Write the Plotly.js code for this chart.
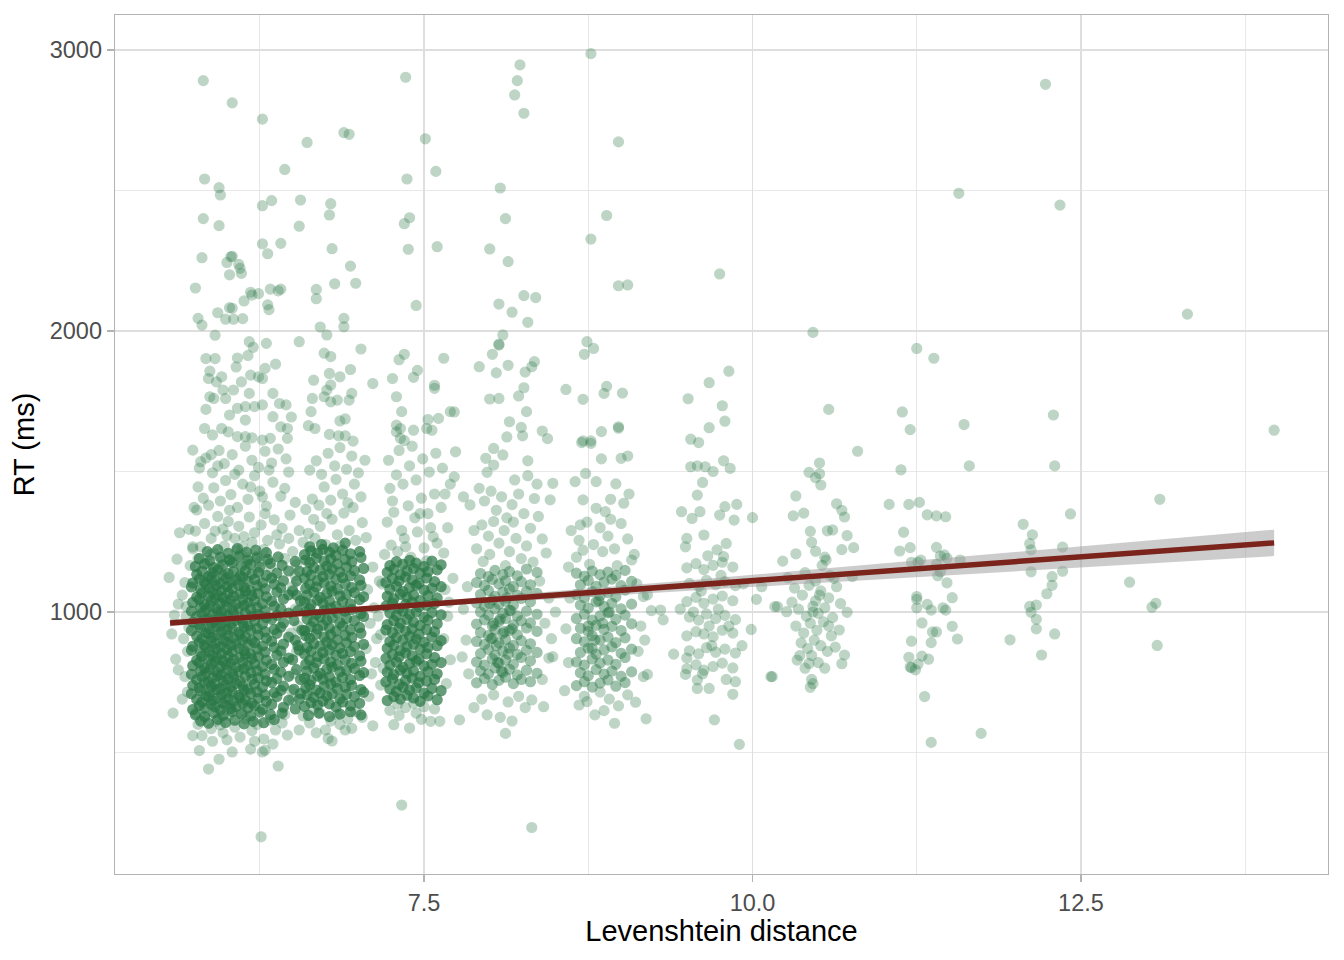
<!DOCTYPE html>
<html>
<head>
<meta charset="utf-8">
<script src="https://cdn.plot.ly/plotly-3.0.1.min.js"></script>
<style>
  html, body { margin: 0; padding: 0; background: #fff; }
  #chart { width: 1344px; height: 960px; }
</style>
</head>
<body>
<div id="chart"></div>
<script>
/* RT vs Levenshtein distance: jittered points + lm fit with 95% band */

// [levenshtein distance, RT in ms]
const clusterA = [
  [5.82,2891],[6.04,2812],[6.27,2754],[5.83,2541],[5.94,2510],[5.95,2484],[6.27,2446],[6.34,2464],[6.56,2466],[6.44,2575],
  [5.82,2400],[5.94,2375],[6.55,2373],[6.04,2266],[6.27,2310],[6.41,2312],[6.31,2275],[5.81,2261],[6.03,2264],[6.00,2244],
  [6.09,2237],[6.10,2223],[6.02,2200],[6.11,2205],[5.76,2153],[6.18,2138],[6.19,2128],[6.24,2133],[6.33,2149],[6.39,2143],
  [6.41,2149],[6.13,2107],[6.02,2083],[6.04,2081],[6.31,2093],[6.32,2076],[5.78,2045],[5.81,2021],[5.93,2065],[5.99,2042],
  [6.05,2042],[6.12,2044],[5.91,1985],[6.55,1962],[6.17,1962],[6.20,1942],[6.30,1956],
  [5.84,1902],[5.91,1902],[5.87,1857],[5.86,1831],[5.92,1819],[5.96,1837],[6.08,1904],[6.07,1872],[6.16,1913],[5.97,1790],
  [5.87,1766],[5.90,1760],[5.99,1760],[6.05,1790],[6.11,1819],[6.18,1843],[6.24,1837],[6.27,1831],[6.29,1867],[6.37,1882],
  [6.17,1778],[6.35,1778],[6.40,1742],[6.45,1737],[5.84,1721],[6.02,1701],[6.08,1725],[6.14,1731],[6.21,1731],[6.27,1737],
  [6.14,1683],[6.35,1695],[6.49,1694],[5.83,1653],[5.89,1630],[5.96,1653],[6.01,1641],[6.08,1624],[6.14,1624],[6.19,1620],
  [6.27,1612],[6.33,1618],[6.41,1659],[6.46,1653],[6.46,1618],
  [5.72,1165],[5.78,1190],[5.85,1172],[5.90,1210],[5.94,1158],[5.98,1235],[6.02,1185],[6.06,1262],[6.10,1205],[6.15,1170],
  [6.19,1248],[6.23,1198],[6.28,1222],[6.33,1160],[6.38,1275],[6.44,1190],[6.50,1215],[6.53,1168],[5.76,1288],[5.83,1315],
  [5.88,1262],[5.93,1340],[5.97,1295],[6.01,1322],[6.05,1178],[6.09,1305],[6.13,1268],[6.17,1338],[6.21,1282],[6.26,1310],
  [6.31,1255],[6.36,1328],[6.42,1298],[6.47,1262],[5.80,1232],[5.87,1204],[6.00,1272],[6.12,1232],[6.25,1180],[6.40,1242],
  [5.74,1225],[6.55,1290],[6.48,1345],[5.91,1288],[6.07,1220],[6.29,1350],[6.16,1195],[5.96,1182],
  [5.75,1372],[5.82,1405],[5.86,1380],[5.90,1442],[5.95,1395],[5.99,1468],[6.03,1418],[6.08,1372],[6.12,1455],[6.16,1401],
  [6.21,1485],[6.25,1430],[6.30,1377],[6.35,1462],[6.41,1412],[6.47,1498],[6.52,1390],[5.79,1512],[5.84,1548],[5.89,1495],
  [5.94,1575],[5.98,1528],[6.04,1560],[6.09,1505],[6.14,1590],[6.19,1540],[6.24,1515],[6.29,1572],[6.34,1530],[6.39,1580],
  [6.45,1545],[5.78,1445],[5.93,1520],[6.06,1490],[6.18,1445],[6.32,1505],[6.44,1440],[6.02,1362],[6.27,1410],[5.88,1560],
  [5.56,1123],[5.62,1188],[5.64,1282],[5.68,1105],[5.63,1028],[5.60,989],[5.58,922],[5.61,832],[5.63,794],[5.59,640],
  [5.71,1294],[5.74,1232],[5.74,1576],[5.80,1535],[5.77,1363],
  [5.66,1060],[5.69,985],[5.67,905],[5.70,860],[5.68,770],[5.70,715],[5.66,690],[5.71,945],[5.69,1020],[6.50,1090],
  [6.52,1010],[6.49,925],[6.53,860],[6.51,780],[6.49,720],[6.54,950],[6.52,1130],[6.50,690],
  [5.86,441],[5.79,507],[5.74,560],[5.94,476],[6.04,502],[6.18,512],[6.27,502],[6.29,508],[6.39,452],[6.26,200],[5.89,540],
  [5.78,600],[5.83,625],[5.88,585],[5.92,612],[5.97,570],[6.01,632],[6.06,590],[6.10,555],[6.14,620],[6.19,578],
  [6.23,600],[6.28,548],[6.33,615],[6.37,580],[6.42,605],[6.46,562],[5.81,560],[6.00,545],[6.21,540],[6.35,530],
  [5.95,598],[6.12,640],[5.76,640],[6.44,635]
];

const clusterA_core = [
  [5.80,612],[5.86,604],[5.93,618],[5.99,607],[6.06,615],[6.13,602],[6.20,611],[6.28,606],[6.36,617],
  [5.76,634],[5.83,629],[5.90,641],[5.97,632],[6.04,646],[6.11,637],[6.18,630],[6.25,644],[6.33,635],[6.42,640],
  [5.74,653],[5.79,667],[5.83,658],[5.88,672],[5.91,662],[5.95,651],[5.99,669],[6.03,656],[6.07,664],[6.12,674],[6.16,659],[6.21,666],[6.27,654],[6.34,671],[6.43,661],
  [5.77,689],[5.81,680],[5.86,698],[5.89,685],[5.93,694],[5.97,677],[6.01,691],[6.05,683],[6.10,696],[6.14,687],[6.19,675],[6.24,693],[6.30,682],[6.38,699],[6.47,686],
  [5.73,709],[5.80,720],[5.84,701],[5.87,715],[5.92,724],[5.96,706],[6.00,712],[6.04,718],[6.09,703],[6.13,722],[6.18,710],[6.23,716],[6.29,705],[6.36,713],[6.41,721],
  [5.74,739],[5.79,730],[5.83,748],[5.88,735],[5.91,744],[5.95,727],[5.99,741],[6.03,733],[6.07,746],[6.12,737],[6.16,725],[6.21,743],[6.27,732],[6.34,749],[6.43,736],
  [5.77,759],[5.81,770],[5.86,751],[5.89,765],[5.93,774],[5.97,756],[6.01,762],[6.05,768],[6.10,753],[6.14,772],[6.19,760],[6.24,766],[6.30,755],[6.38,763],[6.47,771],
  [5.73,778],[5.80,792],[5.84,783],[5.87,797],[5.92,787],[5.96,776],[6.00,794],[6.04,781],[6.09,789],[6.13,799],[6.18,784],[6.23,791],[6.29,779],[6.36,796],[6.41,786],
  [5.74,809],[5.79,820],[5.83,801],[5.88,815],[5.91,824],[5.95,806],[5.99,812],[6.03,818],[6.07,803],[6.12,822],[6.16,810],[6.21,816],[6.27,805],[6.34,813],[6.43,821],
  [5.77,828],[5.81,842],[5.86,833],[5.89,847],[5.93,837],[5.97,826],[6.01,844],[6.05,831],[6.10,839],[6.14,849],[6.19,834],[6.24,841],[6.30,829],[6.38,846],[6.47,836],
  [5.73,864],[5.80,855],[5.84,873],[5.87,860],[5.92,869],[5.96,852],[6.00,866],[6.04,858],[6.09,871],[6.13,862],[6.18,850],[6.23,868],[6.29,857],[6.36,874],[6.41,861],
  [5.74,878],[5.79,892],[5.83,883],[5.88,897],[5.91,887],[5.95,876],[5.99,894],[6.03,881],[6.07,889],[6.12,899],[6.16,884],[6.21,891],[6.27,879],[6.34,896],[6.43,886],
  [5.77,914],[5.81,905],[5.86,923],[5.89,910],[5.93,919],[5.97,902],[6.01,916],[6.05,908],[6.10,921],[6.14,912],[6.19,900],[6.24,918],[6.30,907],[6.38,924],[6.47,911],
  [5.73,934],[5.80,945],[5.84,926],[5.87,940],[5.92,949],[5.96,931],[6.00,937],[6.04,943],[6.09,928],[6.13,947],[6.18,935],[6.23,941],[6.29,930],[6.36,938],[6.41,946],
  [5.74,964],[5.79,955],[5.83,973],[5.88,960],[5.91,969],[5.95,952],[5.99,966],[6.03,958],[6.07,971],[6.12,962],[6.16,950],[6.21,968],[6.27,957],[6.34,974],[6.43,961],
  [5.77,984],[5.81,995],[5.86,976],[5.89,990],[5.93,999],[5.97,981],[6.01,987],[6.05,993],[6.10,978],[6.14,997],[6.19,985],[6.24,991],[6.30,980],[6.38,988],[6.47,996],
  [5.73,1003],[5.80,1017],[5.84,1008],[5.87,1022],[5.92,1012],[5.96,1001],[6.00,1019],[6.04,1006],[6.09,1014],[6.13,1024],[6.18,1009],[6.23,1016],[6.29,1004],[6.36,1021],[6.41,1011],
  [5.74,1034],[5.79,1045],[5.83,1026],[5.88,1040],[5.91,1049],[5.95,1031],[5.99,1037],[6.03,1043],[6.07,1028],[6.12,1047],[6.16,1035],[6.21,1041],[6.27,1030],[6.34,1038],[6.43,1046],
  [5.77,1053],[5.81,1067],[5.86,1058],[5.89,1072],[5.93,1062],[5.97,1051],[6.01,1069],[6.05,1056],[6.10,1064],[6.14,1074],[6.19,1059],[6.24,1066],[6.30,1054],[6.38,1071],[6.47,1061],
  [5.73,1089],[5.80,1080],[5.84,1098],[5.87,1085],[5.92,1094],[5.96,1077],[6.00,1091],[6.04,1083],[6.09,1096],[6.13,1087],[6.18,1075],[6.23,1093],[6.29,1082],[6.36,1099],[6.41,1086],
  [5.74,1103],[5.79,1117],[5.83,1108],[5.88,1122],[5.91,1112],[5.95,1101],[5.99,1119],[6.03,1106],[6.07,1114],[6.12,1124],[6.16,1109],[6.21,1116],[6.27,1104],[6.34,1121],[6.43,1111],
  [5.77,1134],[5.81,1145],[5.86,1126],[5.89,1140],[5.93,1149],[5.97,1131],[6.01,1137],[6.05,1143],[6.10,1128],[6.14,1147],[6.19,1135],[6.24,1141],[6.30,1130],[6.38,1138],[6.47,1146],
  [5.76,1162],[5.83,1171],[5.90,1158],[5.97,1168],[6.04,1175],[6.11,1163],[6.18,1170],[6.25,1160],[6.33,1173],[6.42,1166],
  [5.79,1190],[5.87,1182],[5.95,1195],[6.02,1186],[6.09,1198],[6.16,1184],[6.23,1193],[6.31,1187],[6.39,1196],
  [5.85,1215],[5.93,1222],[6.01,1209],[6.08,1226],[6.15,1213],[6.22,1220],[6.30,1211],
  [6.52,655],[6.55,690],[6.51,725],[6.56,760],[6.53,795],[6.50,830],[6.55,865],[6.52,900],[6.57,935],[6.51,970],
  [6.54,1005],[6.56,1040],[6.50,1075],[6.53,1110],[6.55,1145],[6.52,1180],[6.56,710],[6.54,880],[6.53,1060]
];

const clusterB = [
  [6.61,2671],[6.89,2706],[6.93,2700],[6.79,2453],[6.78,2413],[6.80,2293],[6.94,2231],[6.98,2170],[6.82,2168],[6.68,2148],
  [6.68,2115],[6.89,2045],[6.89,2015],[6.71,2014],[6.76,1986],[7.02,1936],
  [6.66,1825],[6.74,1921],[6.79,1909],[6.78,1849],[6.86,1837],[6.94,1863],[6.76,1790],[6.79,1808],[6.95,1778],[6.93,1754],
  [6.74,1766],[6.65,1760],[6.79,1748],[6.84,1754],[7.11,1813],[6.64,1713],[6.86,1680],[6.90,1687],[6.62,1663],[6.67,1653],
  [6.78,1632],[6.85,1627],[6.90,1627],[6.96,1608],
  [6.58,1248],[6.62,1280],[6.67,1262],[6.71,1305],[6.75,1240],[6.80,1330],[6.84,1275],[6.89,1352],[6.93,1290],[6.98,1255],
  [7.03,1318],[6.60,1365],[6.65,1402],[6.70,1380],[6.74,1445],[6.79,1398],[6.83,1472],[6.88,1420],[6.92,1388],[6.97,1455],
  [7.02,1410],[6.63,1505],[6.68,1538],[6.72,1490],[6.77,1565],[6.82,1520],[6.86,1585],[6.91,1508],[6.95,1555],[7.00,1495],
  [7.05,1540],[6.66,1330],[6.86,1235],[6.96,1372],[6.76,1350],[7.06,1265],
  [7.07,1080],[7.09,960],[7.06,870],[7.10,780],[7.08,700],[7.12,1015],[7.14,905],[7.11,1160],[7.13,820],[7.16,1110],
  [7.15,985],[7.17,740],
  [6.55,580],[6.68,570],[6.77,550],[6.80,541],[6.75,580],[6.90,580],[6.95,586],[7.11,595],[6.58,630],[6.63,605],
  [6.71,640],[6.79,612],[6.84,635],[6.92,620],[6.98,645],[7.03,625],[6.66,655],[6.86,600]
];

const clusterB_core = [
  [6.62,632],[6.70,640],[6.78,628],[6.86,637],[6.94,645],[7.02,634],
  [6.59,664],[6.64,678],[6.69,669],[6.73,683],[6.78,673],[6.83,662],[6.88,680],[6.94,667],[7.01,675],
  [6.61,705],[6.66,696],[6.71,712],[6.76,701],[6.80,709],[6.86,691],[6.91,707],[6.97,699],[7.04,714],
  [6.60,730],[6.63,741],[6.68,722],[6.74,736],[6.79,744],[6.84,727],[6.90,733],[6.95,739],[7.02,724],
  [6.59,765],[6.64,756],[6.69,772],[6.73,761],[6.78,769],[6.83,751],[6.88,767],[6.94,759],[7.01,774],
  [6.61,790],[6.66,801],[6.71,782],[6.76,796],[6.80,804],[6.86,787],[6.91,793],[6.97,799],[7.04,784],
  [6.60,814],[6.63,828],[6.68,819],[6.74,833],[6.79,823],[6.84,812],[6.90,830],[6.95,817],[7.02,825],
  [6.59,850],[6.64,861],[6.69,842],[6.73,856],[6.78,864],[6.83,847],[6.88,853],[6.94,859],[7.01,844],
  [6.61,874],[6.66,888],[6.71,879],[6.76,893],[6.80,883],[6.86,872],[6.91,890],[6.97,877],[7.04,885],
  [6.60,915],[6.63,906],[6.68,922],[6.74,911],[6.79,919],[6.84,901],[6.90,917],[6.95,909],[7.02,924],
  [6.59,934],[6.64,948],[6.69,939],[6.73,953],[6.78,943],[6.83,932],[6.88,950],[6.94,937],[7.01,945],
  [6.61,975],[6.66,966],[6.71,982],[6.76,971],[6.80,979],[6.86,961],[6.91,977],[6.97,969],[7.04,984],
  [6.60,1000],[6.63,1011],[6.68,992],[6.74,1006],[6.79,1014],[6.84,997],[6.90,1003],[6.95,1009],[7.02,994],
  [6.59,1035],[6.64,1026],[6.69,1042],[6.73,1031],[6.78,1039],[6.83,1021],[6.88,1037],[6.94,1029],[7.01,1044],
  [6.61,1060],[6.66,1071],[6.71,1052],[6.76,1066],[6.80,1074],[6.86,1057],[6.91,1063],[6.97,1069],[7.04,1054],
  [6.60,1084],[6.63,1098],[6.68,1089],[6.74,1103],[6.79,1093],[6.84,1082],[6.90,1100],[6.95,1087],[7.02,1095],
  [6.59,1120],[6.64,1131],[6.69,1112],[6.73,1126],[6.78,1134],[6.83,1117],[6.88,1123],[6.94,1129],[7.01,1114],
  [6.61,1144],[6.66,1158],[6.71,1149],[6.76,1163],[6.80,1153],[6.86,1142],[6.91,1160],[6.97,1147],[7.04,1155],
  [6.60,1185],[6.63,1176],[6.68,1192],[6.74,1181],[6.79,1189],[6.84,1171],[6.90,1187],[6.95,1179],[7.02,1194],
  [6.59,1204],[6.64,1218],[6.69,1209],[6.73,1223],[6.78,1213],[6.83,1202],[6.88,1220],[6.94,1207],[7.01,1215],
  [6.63,1232],[6.72,1240],[6.81,1228],[6.90,1245]
];

const clusterC = [
  [7.36,2903],[7.51,2684],[7.37,2541],[7.59,2568],[7.39,2403],[7.35,2382],[7.38,2291],[7.60,2300],[7.44,2091],[7.35,1917],
  [7.31,1898],[7.65,1903],[7.73,1712],
  [7.29,1665],[7.29,1641],[7.32,1653],[7.42,1647],[7.53,1685],[7.52,1653],[7.56,1647],[7.61,1689],[7.70,1713],[7.26,1831],
  [7.29,1766],[7.33,1713],[7.42,1835],[7.45,1860],[7.58,1807],[7.58,1796],[7.32,1618],[7.35,1610],
  [7.20,1205],[7.25,1238],[7.30,1215],[7.35,1262],[7.40,1195],[7.45,1285],[7.50,1228],[7.55,1300],[7.60,1245],[7.65,1210],
  [7.22,1320],[7.27,1355],[7.33,1290],[7.38,1378],[7.43,1335],[7.48,1405],[7.53,1350],[7.58,1420],[7.63,1372],[7.68,1300],
  [7.24,1440],[7.29,1488],[7.34,1455],[7.39,1520],[7.44,1470],[7.49,1545],[7.54,1498],[7.59,1565],[7.64,1512],[7.70,1455],
  [7.31,1575],[7.41,1590],[7.47,1350],[7.36,1232],[7.57,1268],[7.26,1395],[7.66,1420],[7.52,1182],[7.23,1540],
  [7.66,1080],[7.68,985],[7.65,905],[7.70,830],[7.67,745],[7.72,1120],[7.69,1035],[7.18,1100],[7.17,920],[7.19,800],
  [7.27,599],[7.39,587],[7.55,611],[7.62,611],[7.50,663],[7.33,313],[7.24,650],[7.31,632],[7.36,660],[7.44,640],
  [7.48,618],[7.58,655],[7.30,672],[7.42,675]
];

const clusterC_core = [
  [7.22,685],[7.27,699],[7.32,690],[7.37,704],[7.42,694],[7.47,682],[7.53,701],[7.60,688],
  [7.24,726],[7.29,717],[7.34,733],[7.39,722],[7.44,730],[7.50,711],[7.56,728],[7.63,720],
  [7.21,751],[7.26,762],[7.31,743],[7.36,757],[7.41,765],[7.46,748],[7.52,754],[7.58,760],
  [7.22,786],[7.27,777],[7.32,793],[7.37,782],[7.42,790],[7.47,771],[7.53,788],[7.60,780],
  [7.24,811],[7.29,822],[7.34,803],[7.39,817],[7.44,825],[7.50,808],[7.56,814],[7.63,820],
  [7.21,835],[7.26,849],[7.31,840],[7.36,854],[7.41,844],[7.46,832],[7.52,851],[7.58,838],
  [7.22,871],[7.27,882],[7.32,863],[7.37,877],[7.42,885],[7.47,868],[7.53,874],[7.60,880],
  [7.24,895],[7.29,909],[7.34,900],[7.39,914],[7.44,904],[7.50,892],[7.56,911],[7.63,898],
  [7.21,936],[7.26,927],[7.31,943],[7.36,932],[7.41,940],[7.46,921],[7.52,938],[7.58,930],
  [7.22,955],[7.27,969],[7.32,960],[7.37,974],[7.42,964],[7.47,952],[7.53,971],[7.60,958],
  [7.24,996],[7.29,987],[7.34,1003],[7.39,992],[7.44,1000],[7.50,981],[7.56,998],[7.63,990],
  [7.21,1021],[7.26,1032],[7.31,1013],[7.36,1027],[7.41,1035],[7.46,1018],[7.52,1024],[7.58,1030],
  [7.22,1056],[7.27,1047],[7.32,1063],[7.37,1052],[7.42,1060],[7.47,1041],[7.53,1058],[7.60,1050],
  [7.24,1081],[7.29,1092],[7.34,1073],[7.39,1087],[7.44,1095],[7.50,1078],[7.56,1084],[7.63,1090],
  [7.21,1105],[7.26,1119],[7.31,1110],[7.36,1124],[7.41,1114],[7.46,1102],[7.52,1121],[7.58,1108],
  [7.22,1141],[7.27,1152],[7.32,1133],[7.37,1147],[7.42,1155],[7.47,1138],[7.53,1144],[7.60,1150],
  [7.24,1165],[7.29,1179],[7.34,1170],[7.39,1184],[7.44,1174],[7.50,1162],[7.56,1181],[7.63,1168]
];

const clusterD = [
  [8.23,2947],[8.21,2891],[8.19,2840],[8.26,2775],[8.08,2509],[8.12,2400],[8.00,2292],[8.14,2247],[8.26,2126],[8.35,2119],
  [8.07,2096],[8.17,2067],[8.29,2031],[8.10,1986],[8.07,1953],[8.07,1950],[8.02,1917],[7.92,1873],[8.05,1851],[8.14,1878],
  [8.27,1854],[8.32,1873],[8.34,1891],[8.26,1798],[8.22,1769],[8.00,1758],[8.07,1760],[8.28,1713],[8.15,1677],[8.24,1657],
  [8.13,1623],[8.25,1627],[8.40,1644],[8.44,1617],
  [8.03,1582],[7.97,1547],[8.10,1559],[8.03,1523],[7.98,1497],[8.29,1538],[8.29,1485],[8.19,1470],[8.48,1458],[8.46,1399],
  [8.34,1404],[7.80,1410],[7.85,1381],[7.74,1570],[7.73,1481],
  [7.92,1440],[7.96,1395],[8.01,1430],[8.05,1362],[8.09,1410],[8.13,1335],[8.17,1382],[8.22,1420],[8.26,1350],[8.31,1298],
  [8.37,1340],[7.94,1310],[7.99,1270],[8.03,1322],[8.07,1245],[8.11,1290],[8.15,1215],[8.20,1262],[8.24,1190],[8.28,1235],
  [8.33,1178],[8.40,1260],[7.90,1225],[7.95,1180],[8.00,1205],[8.12,1165],[8.18,1320],[8.43,1210],[7.88,1290],[8.36,1455],
  [7.77,616],[7.98,634],[8.08,625],[8.17,612],[8.12,568],[8.32,233],[8.45,836],[8.48,841],[8.41,663],[8.32,687],
  [7.82,900],[7.80,1010],[7.84,780],[7.83,1090],[8.42,960],[8.45,1050],[8.40,760],[8.47,905],[7.94,690],[8.03,705],
  [8.14,680],[8.22,700],[8.27,660],[7.88,660],[8.38,1110],[7.79,840],[8.50,1000]
];

const clusterD_core = [
  [7.90,748],[7.96,763],[8.02,742],[8.07,757],[8.12,768],[8.18,745],[8.24,760],[8.31,752],
  [7.93,790],[7.99,779],[8.04,801],[8.10,785],[8.15,796],[8.21,776],[8.28,793],[8.36,782],
  [7.90,822],[7.96,811],[8.02,833],[8.07,818],[8.12,829],[8.18,814],[8.24,838],[8.31,826],
  [7.93,852],[7.99,867],[8.04,846],[8.10,861],[8.15,872],[8.21,849],[8.28,864],[8.36,856],
  [7.90,895],[7.96,884],[8.02,906],[8.07,890],[8.12,901],[8.18,881],[8.24,898],[8.31,887],
  [7.93,927],[7.99,916],[8.04,938],[8.10,923],[8.15,934],[8.21,919],[8.28,943],[8.36,931],
  [7.90,957],[7.96,972],[8.02,951],[8.07,966],[8.12,977],[8.18,954],[8.24,969],[8.31,961],
  [7.93,1000],[7.99,989],[8.04,1011],[8.10,995],[8.15,1006],[8.21,986],[8.28,1003],[8.36,992],
  [7.90,1032],[7.96,1021],[8.02,1043],[8.07,1028],[8.12,1039],[8.18,1024],[8.24,1048],[8.31,1036],
  [7.93,1062],[7.99,1077],[8.04,1056],[8.10,1071],[8.15,1082],[8.21,1059],[8.28,1074],[8.36,1066],
  [7.90,1105],[7.96,1094],[8.02,1116],[8.07,1100],[8.12,1111],[8.18,1091],[8.24,1108],[8.31,1097],
  [7.93,1137],[7.99,1126],[8.04,1148],[8.10,1133],[8.15,1144],[8.21,1129],[8.28,1153],[8.36,1141],
  [8.05,880],[8.11,930],[8.08,975],[8.14,850],[8.01,905],[8.16,1005],[8.06,820],[8.13,1050],[8.09,790],[8.03,960],
  [8.17,940],[8.00,1030]
];

const clusterE = [
  [8.77,2987],[8.98,2673],[8.89,2411],[8.77,2327],[8.98,2161],[9.05,2164],[8.74,1962],[8.79,1938],[8.72,1917],[8.58,1792],
  [8.71,1757],[8.89,1803],[8.87,1778],[9.01,1779],[8.85,1642],[8.98,1659],[8.98,1654],[8.71,1609],[8.77,1609],
  [8.70,1603],[8.77,1600],[8.85,1545],[9.00,1547],[9.05,1555],[8.73,1493],[8.65,1464],[8.81,1464],[8.96,1456],[8.71,1399],
  [8.92,1401],[9.06,1420],[8.81,1369],[9.02,1387],[8.69,1310],[8.88,1357],
  [8.62,1290],[8.68,1255],[8.74,1320],[8.79,1240],[8.84,1300],[8.90,1270],[8.95,1225],[9.00,1315],[9.05,1260],[9.10,1205],
  [8.66,1195],[8.76,1170],[8.86,1215],[8.97,1165],[9.08,1185],[8.71,1220],[8.92,1330],[8.60,1160],
  [9.23,1005],[9.30,1007],[9.32,972],[9.17,1055],[9.20,1061],[8.68,669],[8.74,681],[8.80,634],[8.87,649],[8.98,666],
  [8.95,604],[9.11,679],[9.19,620],[9.17,770],[9.20,778],[8.60,820],[8.58,940],[8.61,1050],[8.57,720],[9.13,860],
  [9.15,950],[9.12,1100],[9.18,900],[8.72,700],[8.91,690],[9.05,705],[8.84,715]
];

const clusterE_core = [
  [8.66,738],[8.72,752],[8.78,733],[8.84,747],[8.90,758],[8.96,736],[9.03,749],
  [8.69,784],[8.75,773],[8.81,795],[8.87,779],[8.93,790],[9.00,771],[9.08,787],
  [8.66,822],[8.72,811],[8.78,833],[8.84,818],[8.90,829],[8.96,814],[9.03,838],
  [8.69,856],[8.75,871],[8.81,850],[8.87,865],[8.93,876],[9.00,853],[9.08,868],
  [8.66,905],[8.72,894],[8.78,916],[8.84,900],[8.90,911],[8.96,891],[9.03,908],
  [8.69,942],[8.75,931],[8.81,953],[8.87,938],[8.93,949],[9.00,934],[9.08,958],
  [8.66,977],[8.72,992],[8.78,971],[8.84,986],[8.90,997],[8.96,974],[9.03,989],
  [8.69,1025],[8.75,1014],[8.81,1036],[8.87,1020],[8.93,1031],[9.00,1011],[9.08,1028],
  [8.66,1062],[8.72,1051],[8.78,1073],[8.84,1058],[8.90,1069],[8.96,1054],[9.03,1078],
  [8.69,1097],[8.75,1112],[8.81,1091],[8.87,1106],[8.93,1117],[9.00,1094],[9.08,1109],
  [8.66,1138],[8.72,1127],[8.78,1146],[8.84,1133],[8.90,1142],[8.96,1130],[9.03,1148],
  [8.80,900],[8.86,960],[8.83,1040],[8.78,870],[8.91,1000],[8.75,950]
];

const clusterF = [
  [9.75,2203],[9.51,1759],[9.67,1816],[9.82,1857],[9.77,1734],[9.79,1679],[9.67,1656],[9.53,1615],[9.59,1603],
  [9.53,1517],[9.58,1520],[9.64,1517],[9.70,1500],[9.78,1538],[9.83,1511],[9.62,1461],[9.58,1416],[9.46,1357],[9.54,1333],
  [9.60,1357],[9.75,1345],[9.79,1375],[9.88,1383],[9.86,1327],[10.00,1336],[9.50,1262],[9.49,1232],[9.63,1274],[9.73,1221],
  [9.78,1197],[9.80,1244],
  [9.50,798],[9.57,812],[9.63,793],[9.70,806],[9.77,818],[9.85,801],
  [9.52,862],[9.59,851],[9.65,873],[9.72,857],[9.79,868],[9.87,854],
  [9.50,915],[9.57,930],[9.63,922],[9.70,912],[9.77,935],[9.85,925],
  [9.52,982],[9.59,971],[9.65,993],[9.72,977],[9.79,988],[9.87,973],
  [9.50,1037],[9.57,1052],[9.63,1031],[9.70,1046],[9.77,1057],[9.85,1040],
  [9.52,1102],[9.59,1091],[9.65,1113],[9.72,1097],[9.79,1108],[9.87,1094],
  [9.50,1157],[9.57,1172],[9.63,1151],[9.70,1166],[9.77,1177],[9.85,1160],
  [9.67,950],[9.74,1010],[9.61,1075],[9.69,880],[9.76,1130],[9.55,1000],[9.82,950],[9.66,1200],
  [9.40,850],[9.50,836],[9.49,778],[9.58,758],[9.67,728],[9.58,728],[9.71,616],[9.85,707],[9.87,752],[9.90,529],
  [10.14,770],[9.99,938],[10.07,1090],[10.03,1045],[10.17,1019],[9.45,1010],[9.93,1100],[9.92,880],[9.62,780],[9.80,760]
];

const clusterG = [
  [10.46,1995],[10.58,1721],[10.80,1572],[10.51,1530],[10.43,1497],[10.51,1492],[10.48,1478],[10.52,1452],[10.33,1413],[10.31,1342],
  [10.39,1352],[10.64,1385],[10.68,1362],[10.70,1338],[10.44,1287],[10.45,1248],[10.48,1216],[10.57,1289],[10.61,1292],[10.72,1272],
  [10.68,1222],[10.77,1229],[10.23,1181],[10.33,1207],[10.55,1195],[10.56,1185],[10.53,1166],[10.27,1122],[10.76,1126],[10.59,1130],
  [10.19,1019],[10.26,1001],[10.72,999],[10.66,936],[10.63,875],[10.70,847],[10.34,829],[10.43,817],[10.68,816],[10.44,732],
  [10.46,745],[10.45,760],[10.15,770],
  [10.32,1085],[10.38,1060],[10.43,1095],[10.48,1040],[10.52,1075],[10.58,1050],[10.64,1090],[10.35,1010],[10.41,985],[10.46,1020],
  [10.50,995],[10.55,1015],[10.61,980],[10.67,1030],[10.33,950],[10.39,925],[10.44,960],[10.49,935],[10.54,965],[10.60,915],
  [10.37,890],[10.42,870],[10.47,900],[10.52,880],[10.57,860],[10.36,845],[10.45,845],[10.50,820],[10.40,800],[10.55,800],
  [10.30,1035],[10.62,1120],[10.48,1110],[10.40,1140],[10.58,950],[10.46,1000],[10.51,1060]
];

const clusterH = [
  [11.57,2490],[11.25,1938],[11.38,1903],[11.14,1712],[11.20,1649],[11.61,1667],[11.13,1506],[11.65,1520],[11.04,1383],[11.19,1383],
  [11.27,1390],[11.33,1346],[11.40,1342],[11.47,1339],[11.15,1284],[11.12,1217],[11.20,1229],[11.40,1230],[11.43,1199],[11.48,1191],
  [11.46,1203],[11.21,1177],[11.28,1185],[11.26,1177],[11.58,1185],[11.40,1170],[11.41,1129],[11.43,1143],[11.48,1104],[11.25,1055],
  [11.25,1045],[11.25,1015],[11.33,1027],[11.36,1007],[11.47,1007],[11.45,1015],[11.52,1051],[11.29,961],[11.37,929],[11.40,929],
  [11.52,949],[11.21,896],[11.36,891],[11.56,904],[11.19,839],[11.29,843],[11.34,832],[11.20,804],[11.21,802],[11.24,794],
  [11.26,815],[11.31,699],[11.36,536],[11.74,568]
];

const clusterI = [
  [12.23,2878],[12.34,2448],[12.29,1701],[12.30,1520],[12.06,1312],[12.13,1275],[12.11,1243],[12.12,1221],[12.42,1349],[12.36,1231],
  [12.12,1143],[12.36,1145],[12.28,1126],[12.28,1095],[12.24,1065],[12.11,1020],[12.16,1025],[12.12,999],[12.16,974],[12.16,940],
  [11.96,901],[12.30,922],[12.20,847]
];

const clusterFar = [
  [12.87,1106],[13.10,1401],[13.07,1031],[13.04,1017],[13.08,881],[13.31,2060],[13.97,1647]
];

// linear fit and its 95% band, read at a few distances
const fitLev = [5.567, 6.5, 7.5, 8.5, 9.5, 10.5, 11.5, 12.5, 13.97];
const fitRt = [961, 993, 1027, 1060, 1094, 1128, 1162, 1196, 1246];
const fitLow = [949, 984, 1018, 1047, 1076, 1103, 1131, 1159, 1199];
const fitHigh = [973, 1002, 1036, 1073, 1112, 1153, 1193, 1233, 1293];

const xTicks = [7.5, 10, 12.5];
const yTicks = [1000, 2000, 3000];

const POINT_COLOR = "#2a7846";
const FONT = "Liberation Sans, Arial, Helvetica, sans-serif";

function pointTrace(groups, opacity) {
  const pts = [].concat(...groups);
  return {
    x: pts.map((p) => p[0]),
    y: pts.map((p) => p[1]),
    type: "scatter",
    mode: "markers",
    marker: {
      color: POINT_COLOR,
      size: 10,
      opacity,
      line: { color: POINT_COLOR, width: 1.2 },
    },
    hoverinfo: "skip",
    showlegend: false,
  };
}

const traces = [
  pointTrace([clusterA, clusterB, clusterC, clusterD, clusterE, clusterF, clusterG, clusterH, clusterI, clusterFar], 0.3),
  // the overplotted centres of the biggest clusters
  pointTrace([clusterD_core, clusterE_core], 0.45),
  pointTrace([clusterA_core, clusterB_core, clusterC_core], 0.72),
  {
    x: fitLev, y: fitLow, type: "scatter", mode: "lines",
    line: { width: 0, color: "rgba(0,0,0,0)" }, hoverinfo: "skip", showlegend: false,
  },
  {
    x: fitLev, y: fitHigh, type: "scatter", mode: "lines", fill: "tonexty",
    fillcolor: "rgba(153,153,153,0.5)",
    line: { width: 0, color: "rgba(0,0,0,0)" }, hoverinfo: "skip", showlegend: false,
  },
  {
    x: fitLev, y: fitRt, type: "scatter", mode: "lines",
    line: { color: "#7a241c", width: 5.5 }, hoverinfo: "skip", showlegend: false,
  },
];

const axisCommon = {
  showline: true,
  mirror: true,
  linecolor: "#b3b3b3",
  linewidth: 1.3,
  showgrid: true,
  gridcolor: "#dedede",
  gridwidth: 1.3,
  zeroline: false,
  ticks: "outside",
  ticklen: 7,
  tickwidth: 1.3,
  tickcolor: "#b3b3b3",
  tickfont: { family: FONT, size: 23.5, color: "#4d4d4d" },
};

const layout = {
  width: 1344,
  height: 960,
  margin: { l: 115, r: 16, t: 15, b: 86 },
  paper_bgcolor: "#ffffff",
  plot_bgcolor: "#ffffff",
  font: { family: FONT },
  xaxis: {
    ...axisCommon,
    range: [5.148, 14.38],
    tickvals: xTicks,
    ticktext: xTicks.map((v) => v.toFixed(1)),
    minor: { dtick: 1.25, tick0: 0, showgrid: true, gridcolor: "#dedede", gridwidth: 0.7, ticks: "" },
    title: { text: "Levenshtein distance", font: { family: FONT, size: 29, color: "#000000" }, standoff: 6 },
  },
  yaxis: {
    ...axisCommon,
    range: [67.6, 3124.6],
    tickvals: yTicks,
    ticktext: yTicks.map((v) => String(v)),
    minor: { dtick: 500, tick0: 0, showgrid: true, gridcolor: "#dedede", gridwidth: 0.7, ticks: "" },
    title: { text: "RT (ms)", font: { family: FONT, size: 29, color: "#000000" }, standoff: 6 },
  },
};

Plotly.newPlot("chart", traces, layout, { displayModeBar: false, staticPlot: true });
</script>
</body>
</html>
